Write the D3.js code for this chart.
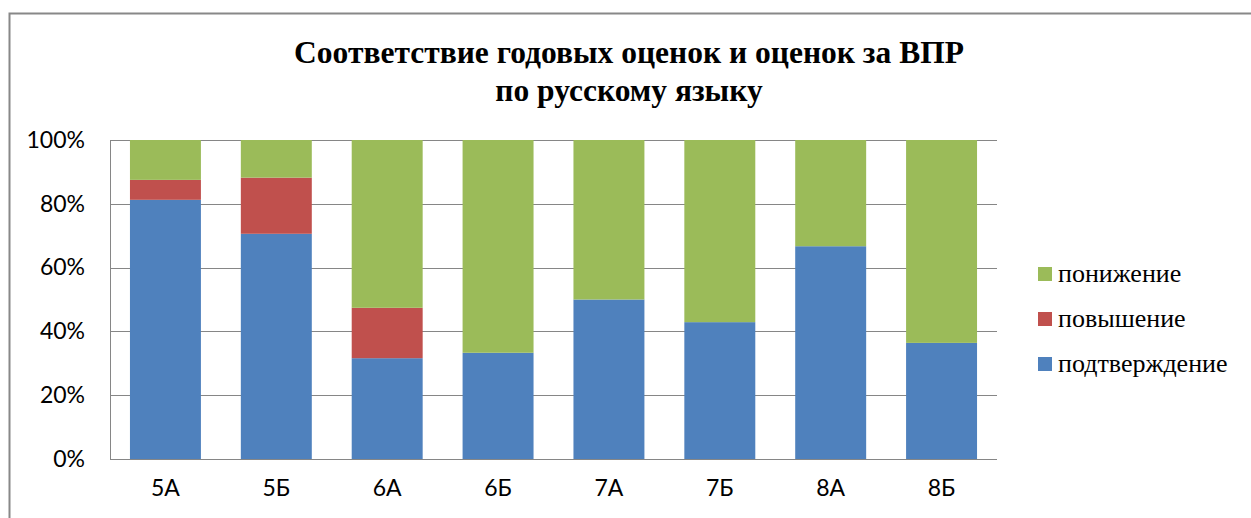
<!DOCTYPE html>
<html>
<head>
<meta charset="utf-8">
<script src="https://cdn.jsdelivr.net/npm/d3@7"></script>
<style>
  body { margin: 0; background: #fff; }
  svg { display: block; }
</style>
</head>
<body>
<div id="chart"></div>
<script>
// data (percent of class)
let classes = ["5А", "5Б", "6А", "6Б", "7А", "7Б", "8А", "8Б"];
let podtv = [81.25, 70.6, 31.6, 33.3, 50, 42.9, 66.7, 36.4];
let povysh = [6.25, 17.6, 15.8, 0, 0, 0, 0, 0];
let ponizh = [12.5, 11.8, 52.6, 66.7, 50, 57.1, 33.3, 63.6];
let seriesNames = ["подтверждение", "повышение", "понижение"];
let seriesColors = ["#4f81bd", "#c0504d", "#9bbb59"];
let yTicks = [0, 20, 40, 60, 80, 100];

let W = 1251, H = 518;
let margin = {top: 140, left: 110, right: 254, bottom: 59};
let width = W - margin.left - margin.right,
    height = H - margin.top - margin.bottom;
let serif = "Liberation Serif, Times New Roman, serif";
let sans = "Lato, Open Sans, sans-serif";

let svg = d3.select("#chart").append("svg")
    .attr("width", W).attr("height", H);

// outer chart border (runs off the right and bottom)
svg.append("rect")
    .attr("x", 9.5).attr("y", 13.5)
    .attr("width", W + 20).attr("height", H + 20)
    .attr("fill", "none").attr("stroke", "#888").attr("stroke-width", 2);

// title
let title = svg.append("text")
    .attr("text-anchor", "middle")
    .attr("font-family", serif)
    .attr("font-weight", "bold")
    .attr("font-size", 31.5);
title.append("tspan").attr("x", 629).attr("y", 63).text("Соответствие годовых оценок и оценок за ВПР");
title.append("tspan").attr("x", 629).attr("y", 101).text("по русскому языку");

let g = svg.append("g").attr("transform", "translate(" + margin.left + "," + margin.top + ")");

let x = d3.scaleBand().domain(classes).range([0, width]).paddingInner(0.36).paddingOuter(0.18);
let y = d3.scaleLinear().domain([0, 100]).range([height, 0]);

// gridlines
g.selectAll(".grid").data(yTicks).enter().append("line")
    .attr("x1", 0).attr("x2", width)
    .attr("y1", d => Math.round(y(d)) + 0.5).attr("y2", d => Math.round(y(d)) + 0.5)
    .attr("stroke", "#868686").attr("stroke-width", 1);

let table = classes.map((c, i) => ({cls: c, "подтверждение": podtv[i], "повышение": povysh[i], "понижение": ponizh[i]}));
let stacked = d3.stack().keys(seriesNames)(table);

g.selectAll(".layer").data(stacked).enter().append("g")
    .attr("fill", (d, i) => seriesColors[i])
  .selectAll("rect").data(d => d).enter().append("rect")
    .attr("x", d => x(d.data.cls))
    .attr("width", x.bandwidth())
    .attr("y", d => y(d[1]))
    .attr("height", d => y(d[0]) - y(d[1]));

// left axis line
g.append("line").attr("x1", 0.5).attr("x2", 0.5).attr("y1", 0).attr("y2", height)
    .attr("stroke", "#868686");

let yAxis = g.append("g")
    .call(d3.axisLeft(y).tickValues(yTicks).tickFormat(d => d + "%").tickSize(0).tickPadding(25));
yAxis.select(".domain").remove();
yAxis.selectAll("text")
    .attr("font-family", sans)
    .attr("font-size", 23).attr("fill", "#000");

let xAxis = g.append("g").attr("transform", "translate(0," + height + ")")
    .call(d3.axisBottom(x).tickSize(0).tickPadding(21));
xAxis.select(".domain").remove();
xAxis.selectAll("text")
    .attr("font-family", sans)
    .attr("font-size", 23).attr("fill", "#000");

// legend
let legendOrder = [2, 1, 0];
let legend = svg.append("g").attr("transform", "translate(1038,0)");
legendOrder.forEach((si, k) => {
    let yy = 274 + k * 45;
    legend.append("rect").attr("x", 0).attr("y", yy - 7).attr("width", 14).attr("height", 14)
        .attr("fill", seriesColors[si]);
    legend.append("text").attr("x", 20).attr("y", yy + 8)
        .attr("font-family", serif)
        .attr("font-size", 26)
        .text(seriesNames[si]);
});
</script>
</body>
</html>
